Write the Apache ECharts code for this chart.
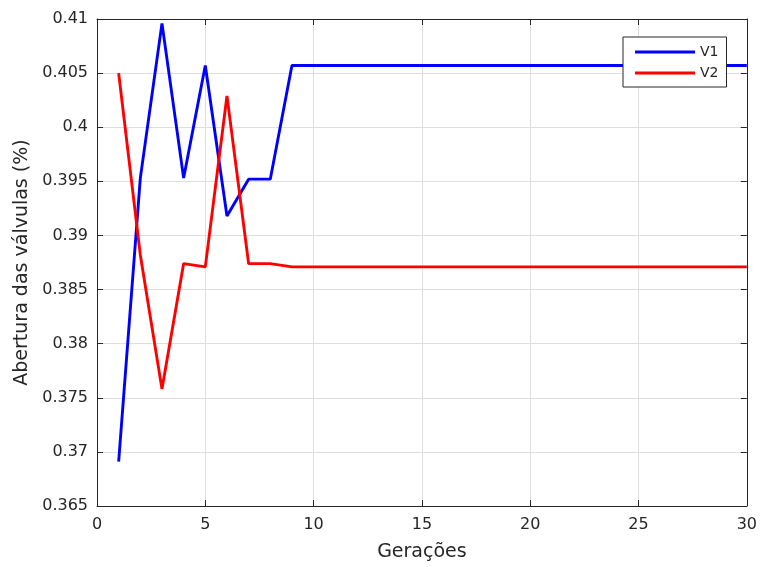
<!DOCTYPE html>
<html>
<head>
    <meta charset="utf-8">
    <title>Abertura das válvulas</title>
    <script src="https://cdn.jsdelivr.net/npm/echarts@6/dist/echarts.min.js"></script>
    <style type="text/css">
        html, body { margin: 0; padding: 0; background: #fff; }
        #chart { width: 760px; height: 567px; }
    </style>
</head>
<body>
<div id="chart"></div>
<script type="text/javascript">
    // dados
    var geracoes = [1, 2, 3, 4, 5, 6, 7, 8, 9, 10, 11, 12, 13, 14, 15, 16, 17, 18, 19, 20,
                    21, 22, 23, 24, 25, 26, 27, 28, 29, 30];
    var v1 = [0.3691, 0.3953, 0.4096, 0.3953, 0.4057, 0.3918, 0.3952, 0.3952, 0.4057, 0.4057,
              0.4057, 0.4057, 0.4057, 0.4057, 0.4057, 0.4057, 0.4057, 0.4057, 0.4057, 0.4057,
              0.4057, 0.4057, 0.4057, 0.4057, 0.4057, 0.4057, 0.4057, 0.4057, 0.4057, 0.4057];
    var v2 = [0.4050, 0.3882, 0.3758, 0.3874, 0.3871, 0.4029, 0.3874, 0.3874, 0.3871, 0.3871,
              0.3871, 0.3871, 0.3871, 0.3871, 0.3871, 0.3871, 0.3871, 0.3871, 0.3871, 0.3871,
              0.3871, 0.3871, 0.3871, 0.3871, 0.3871, 0.3871, 0.3871, 0.3871, 0.3871, 0.3871];
    var nomes = ['V1', 'V2'];

    function pares(ys) {
        var out = [];
        for (var i = 0; i < geracoes.length; i++) out.push([geracoes[i], ys[i]]);
        return out;
    }

    var txt = '#262626';
    var fonte = 'DejaVu Sans';

    var eixoX = {
        type: 'value', min: 0, max: 30, interval: 5,
        axisLine: { show: true, onZero: false, lineStyle: { color: txt, width: 1 } },
        axisTick: { show: true, inside: true, length: 6, lineStyle: { color: txt } }
    };
    var eixoY = {
        type: 'value', min: 0.365, max: 0.41, interval: 0.005,
        axisLine: { show: true, onZero: false, lineStyle: { color: txt, width: 1 } },
        axisTick: { show: true, inside: true, length: 6, lineStyle: { color: txt } }
    };

    var chart = echarts.init(document.getElementById('chart'));
    chart.setOption({
        backgroundColor: '#fff',
        animation: false,
        grid: { left: 97, top: 19, width: 650, height: 488 },
        legend: {
            data: [
                { name: nomes[0], icon: 'rect' },
                { name: nomes[1], icon: 'rect' }
            ],
            orient: 'vertical',
            left: 623, top: 37,
            padding: [8, 8, 7, 12],
            itemWidth: 60, itemHeight: 3, itemGap: 7,
            backgroundColor: '#fff',
            borderColor: txt, borderWidth: 1,
            textStyle: { color: txt, fontFamily: fonte, fontSize: 14 }
        },
        xAxis: [
            Object.assign({}, eixoX, {
                position: 'bottom',
                name: 'Gerações', nameLocation: 'middle', nameGap: 37,
                nameTextStyle: { color: txt, fontFamily: fonte, fontSize: 19 },
                axisLabel: { color: txt, fontFamily: fonte, fontSize: 16, margin: 11 },
                splitLine: { show: true, lineStyle: { color: '#dedede', width: 1 } }
            }),
            Object.assign({}, eixoX, {
                position: 'top',
                axisLabel: { show: false },
                splitLine: { show: false }
            })
        ],
        yAxis: [
            Object.assign({}, eixoY, {
                position: 'left',
                name: 'Abertura das válvulas (%)', nameLocation: 'middle', nameGap: 64,
                nameTextStyle: { color: txt, fontFamily: fonte, fontSize: 19 },
                axisLabel: {
                    color: txt, fontFamily: fonte, fontSize: 16, margin: 9,
                    formatter: function (v) { return String(+v.toFixed(3)); }
                },
                splitLine: { show: true, lineStyle: { color: '#dedede', width: 1 } }
            }),
            Object.assign({}, eixoY, {
                position: 'right',
                axisLabel: { show: false },
                splitLine: { show: false }
            })
        ],
        series: [
            {
                name: nomes[0], type: 'line', xAxisIndex: 0, yAxisIndex: 0,
                data: pares(v1), showSymbol: false, symbol: 'none',
                itemStyle: { color: '#0000ff' },
                lineStyle: { color: '#0000ff', width: 2.9 }
            },
            {
                name: nomes[1], type: 'line', xAxisIndex: 0, yAxisIndex: 0,
                data: pares(v2), showSymbol: false, symbol: 'none',
                itemStyle: { color: '#ff0000' },
                lineStyle: { color: '#ff0000', width: 2.9 }
            }
        ]
    });
</script>
</body>
</html>
